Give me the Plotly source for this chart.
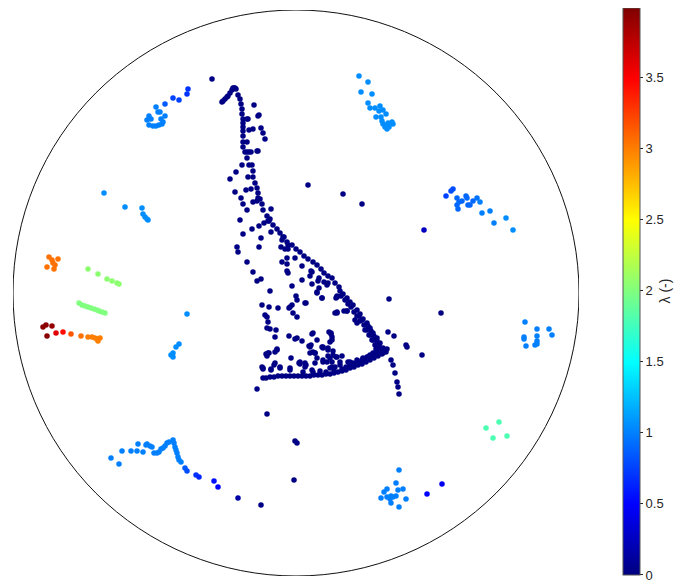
import plotly.graph_objects as go

# ---------------- data (x, y positions; lambda values) ----------------
# navy core structure (lambda ~ 0)
core_x = [-74,-73,-71,-69,-68,-66,-64,-63,-62,-61,-60,
          -58,-56,-55,-54,-54,-53,-53,-53,-53,-53,-53,-53,-51,-49,-49,-48,-47,-43,-42,-38,-37,-35,-33,-31,-49,-49,-47,-45,-39,-38,
          -54,-47,-44,-43,-48,-43,-60,-66,-41,-45,-50,-39,-38,-61,-55,-53,-49,-43,-38,-36,-34,-33,-25,-29,-56,-27,-23,-37,-32,-19,-44,-53,-25,-16,-13,-35,-28,-26,-39,
          -12,-14,-9,-8,-4,-59,-58,-37,-15,-11,-8,0,4,8,12,17,21,25,28,32,36,39,43,44,47,51,54,57,61,64,67,71,74,77,81,84,87,91,
          72,75,78,81,83,85,76,79,69,73,66,63,80,87,
          -9,-14,-9,-1,6,16,-9,-8,-49,-43,-39,-35,-26,-4,6,16,23,22,28,31,32,21,26,0,1,10,-34,-27,-18,-6,-4,41,15,14,23,9,41,40,41,39,48,51,59,61,
          -31,-29,-28,-26,-20,-21,-7,-3,1,-7,1,6,14,17,21,33,35,36,32,27,37,40,32,31,19,21,10,3,-5,-19,-21,-28,-29,-34,-33,-25,-22,-16,-6,4,9,17,27,36,44,52,54,57,61,67,71,74,77,81,86,21,26,
          -33,-29,-30,-27,-19,-21,-25,-16,-1,15,17,14,19,27,32,34,37,41,46,36,27,19,9,4,41,51,16,35,36,13,34,26,
          -33,-30,-26,-22,-18,-14,-10,-6,-2,2,6,10,14,18,22,26,30,34,38,42,46,50,54,58,62,66,70,74,78,82,86,90,
          -6,7,16,24,34,39,44,54,61,67,72,79,84,
          45,49,52,55,58,61,64,68,71,74,77,80,83,85,
          30,38,46,50,58,62,66,70,74,78,82,86,88]
core_y = [191,192,194,196,197,200,203,205,205,205,204,
          198,194,189,184,179,174,170,166,162,157,151,146,141,135,174,174,163,164,188,177,178,165,160,154,151,141,141,141,142,142,
          128,128,128,122,116,116,121,114,110,104,103,105,100,101,95,89,83,91,95,94,89,83,84,77,73,72,68,67,70,64,64,59,61,60,56,55,72,74,92,
          56,53,51,48,48,46,41,46,46,44,44,44,41,37,34,31,28,24,20,17,15,10,6,2,-1,-5,-9,-12,-17,-21,-26,-30,-35,-40,-45,-50,-55,-56,
          -33,-38,-43,-48,-53,-57,-47,-52,-37,-42,-27,-23,-56,-60,
          35,31,29,35,27,21,22,20,31,21,12,14,2,7,13,9,15,12,11,8,10,1,-5,-3,-7,-10,-12,-14,-15,-14,-12,-4,22,17,5,-10,-3,-5,-20,-20,-18,-18,-27,-30,
          -22,-24,-29,-36,-37,-44,-15,-20,-24,-43,-45,-48,-54,-40,-47,-39,-41,-47,-55,-54,-58,-64,-63,-69,-60,-65,-72,-70,-65,-56,-59,-60,-63,-74,-76,-76,-72,-74,-75,-71,-74,-79,-69,-74,-69,-69,-72,-70,-70,-66,-64,-62,-60,-58,-56,0,-5,
          -75,-35,-61,-60,-57,-70,-77,-75,-46,-52,-59,-60,-60,-55,-57,-65,-62,-64,-63,-69,-67,-70,-70,-69,-19,-18,-41,-40,-44,-53,-49,-54,
          -85,-85,-84,-84,-83,-83,-83,-83,-83,-83,-83,-83,-83,-82,-82,-82,-81,-81,-80,-79,-78,-77,-75,-74,-72,-71,-69,-67,-65,-63,-61,-59,
          -77,-79,-77,-78,-75,-74,-72,-69,-67,-65,-64,-60,-57,
          -3,-7,-11,-14,-19,-23,-28,-32,-37,-42,-47,-52,-57,-59,
          -79,-78,-76,-74,-71,-69,-67,-66,-64,-62,-60,-58,-57]

# isolated dark points
iso_x = [-84, 12, 47, 66, 93, 145, 92, 98, 110, 111, 126, 95, 97, 99, 101, 102, 103, -39, -29, -1, 1, -2, -35, -58, 128]
iso_y = [214, 108, 99, 89, -6, -20, -39, -43, -52, -54, -62, -67, -72, -80, -89, -94, -101, -96, -121, -148, -150, -187, -212, -205, 63]
iso_lam = [0.02]*23 + [0.15, 0.25]

# top-left cluster
tl_x = [-108,-109,-117,-123,-131,-140,-138,-136,-131,-135,-147,-149,-145,-147,-143,-140,-137,-134,-133]
tl_y = [204,199,193,195,189,186,181,181,177,174,177,173,174,168,167,167,168,169,171]
tl_lam = [0.7,0.7,0.75,0.75,0.85] + [1.0]*14

# left-middle chain
lm_x = [-192,-171,-154,-153,-151,-149,-148]
lm_y = [100,86,85,79,76,74,73]
lm_lam = [1.05]*7

# top-right cluster
tr_x = [63,72,65,76,72,74,79,84,87,83,90,80,85,86,87,89,91,93,96,97,92,91]
tr_y = [217,211,201,199,190,185,185,187,183,182,179,176,176,172,169,166,164,166,171,169,170,168]
tr_lam = [1.05]*22

# right cluster
r_x = [150,155,157,161,163,166,161,162,170,171,172,174,177,181,184,186,194,198,210,217]
r_y = [97,102,104,95,91,92,88,84,97,95,88,88,92,95,91,80,82,70,75,63]
r_lam = [0.75,0.8,0.8,0.9,0.9,0.9,0.9,0.9,0.9,0.9,0.9,0.9,0.9,0.95,1.0,1.0,1.0,1.0,1.05,1.05]

# far-right cluster
fr_x = [229,241,253,256,241,228,228,230,239,241,241]
fr_y = [-29,-36,-36,-42,-43,-44,-46,-53,-52,-51,-48]
fr_lam = [1.0]*11

# green cluster lower right
g_x = [190,203,197,211]
g_y = [-135,-129,-145,-143]
g_lam = [1.8]*4

# bottom-right cluster
br_x = [103,100,91,88,102,107,85,91,95,97,100,110,95,103,94,131,146]
br_y = [-177,-190,-196,-199,-197,-196,-205,-204,-203,-204,-203,-206,-210,-214,-206,-201,-191]
br_lam = [1.0]*15 + [0.5, 0.45]

# bottom-left arc
bl_x = [-185,-177,-174,-165,-159,-153,-158,-150,-149,-146,-144,-142,-139,-137,-135,-133,-131,-129,-127,-123,-122,-121,-120,-119,-118,-117,-115,
        -111,-109,-100,-97,-82,-78]
bl_y = [-165,-171,-158,-158,-158,-159,-151,-152,-151,-153,-154,-160,-160,-159,-156,-155,-153,-150,-149,-147,-150,-154,-157,-160,-164,-167,-169,
        -175,-178,-182,-184,-188,-194]
bl_lam = [1.0]*27 + [0.85,0.8,0.7,0.65,0.55,0.5]

# left side: orange, green, red groups + light blue
lf_x = [-247,-244,-243,-241,-238,-249,-242,
        -208,-198,-189,-184,-179,-177,
        -217,-214,-211,-208,-205,-202,-199,-197,-194,-191,
        -253,-250,-244,-249,-240,-233,
        -225,-215,-208,-204,-201,-198,-196,-199,
        -109,-117,-120,-123,-125,-123]
lf_y = [36,33,30,28,34,26,24,
        24,19,14,12,10,9,
        -10,-12,-13,-14,-15,-16,-17,-18,-19,-20,
        -34,-32,-33,-43,-40,-39,
        -41,-43,-44,-44,-45,-48,-45,-46,
        -21,-51,-54,-60,-62,-64]
lf_lam = [3.05]*7 + [2.05]*6 + [2.0]*10 + [3.95,3.95,3.9,3.95,3.6,3.45] + [3.15,3.05,3.0,3.0,3.0,3.0,3.0,3.0] + [1.05]*6

R = 283  # radius of the domain
tick_vals = [0, 0.5, 1, 1.5, 2, 2.5, 3, 3.5]
tick_text = ["0", "0.5", "1", "1.5", "2", "2.5", "3", "3.5"]
lam_max = 3.99

# ---------------- assemble ----------------
xs = core_x + iso_x + tl_x + lm_x + tr_x + r_x + fr_x + g_x + br_x + bl_x + lf_x
ys = core_y + iso_y + tl_y + lm_y + tr_y + r_y + fr_y + g_y + br_y + bl_y + lf_y
lams = [0.02]*len(core_x) + iso_lam + tl_lam + lm_lam + tr_lam + r_lam + fr_lam + g_lam + br_lam + bl_lam + lf_lam

jet = [[0, "rgb(0,0,128)"], [0.125, "rgb(0,0,255)"], [0.375, "rgb(0,255,255)"],
       [0.625, "rgb(255,255,0)"], [0.875, "rgb(255,0,0)"], [1, "rgb(128,0,0)"]]

fig = go.Figure()
fig.add_trace(go.Scatter(
    x=xs, y=ys, mode="markers",
    marker=dict(size=5.5, color=lams, colorscale=jet, cmin=0, cmax=lam_max,
                line=dict(width=0),
                colorbar=dict(
                    x=(623 - 13) / 566, xanchor="left", xref="paper",
                    y=0.5027, yanchor="middle",
                    thickness=17, thicknessmode="pixels",
                    len=567, lenmode="pixels",
                    xpad=0, ypad=0,
                    outlinewidth=1, outlinecolor="#555555",
                    tickvals=tick_vals, ticktext=tick_text,
                    ticks="outside", ticklen=3, tickcolor="#262626",
                    tickfont=dict(family="Liberation Sans, Arial", size=13, color="#262626"),
                    title=dict(text=""),
                )),
    hoverinfo="skip", showlegend=False,
))

fig.add_shape(type="circle", xref="x", yref="y", x0=-R, y0=-R, x1=R, y1=R,
              line=dict(color="#111111", width=1), layer="below")

fig.add_annotation(text="λ (-)", xref="paper", yref="paper",
                   x=(675 - 13) / 566, y=0.5027, showarrow=False, textangle=-90,
                   font=dict(family="Liberation Sans, Arial", size=14, color="#262626"))

fig.update_xaxes(range=[-R, R], visible=False, showgrid=False, zeroline=False)
fig.update_yaxes(range=[-R, R], visible=False, showgrid=False, zeroline=False)
# the page body adds an 8 px offset, so the figure is 8 px smaller than the window
fig.update_layout(width=681, height=575,
                  margin=dict(l=5, r=110, t=2, b=7, autoexpand=False),
                  plot_bgcolor="white", paper_bgcolor="white")

fig.write_html("out.html")
